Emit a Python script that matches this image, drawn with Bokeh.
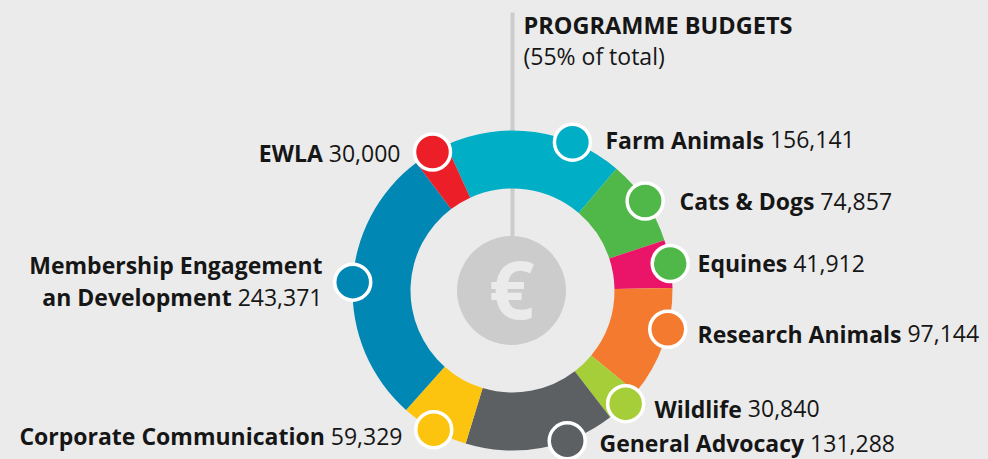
import subprocess
import numpy as np
from bokeh.plotting import figure
from bokeh.models import Range1d
from bokeh.embed import file_html
from bokeh.resources import INLINE
from bokeh.core.properties import value

# ---------------- data ----------------
title_line1 = "PROGRAMME BUDGETS"
title_line2 = "(55% of total)"
categories = ["Farm Animals", "Cats & Dogs", "Equines", "Research Animals", "Wildlife",
              "General Advocacy", "Corporate Communication",
              "Membership Engagement an Development", "EWLA"]
budgets = [156141, 74857, 41912, 97144, 30840, 131288, 59329, 243371, 30000]

# ---------------- style / layout ----------------
seg_colors = ["#00AEC5", "#50B848", "#EA1568", "#F47A30", "#A6CE39",
              "#5D6062", "#FDC40F", "#0087B3", "#EC1E27"]
marker_colors = ["#00AEC5", "#50B848", "#50B848", "#F47A30", "#A6CE39",
                 "#5D6062", "#FDC40F", "#0087B3", "#EC1E27"]
marker_angles = [22, 56, 80.3, 104, 135, 160, 209.5, 273, 330]   # clockwise from top
# label anchors in page pixels: (x, baseline y, align)
label_pos = [(605, 146.7, "left"), (679, 208.3, "left"), (697, 270, "left"),
             (697, 340.7, "left"), (654, 415.5, "left"), (599, 450, "left"),
             (402, 443, "right"), (322, 304, "right"), (400, 160, "right")]

W, H = 988, 459
CX, CY = 512, 290          # page coordinates of donut centre
R_OUT, R_IN = 160, 102
START = -24.5              # clockwise degrees from 12 o'clock
FONT = "Open Sans"
FS = 23
BG = "#EBEBEB"
TXT = "#161616"
TDY = -7.5                 # correction of the svg text baseline


def px(x):
    return x - CX


def py(y):
    return CY - y


def ty(y):
    return CY - (y + TDY)


def font_file(bold):
    try:
        r = subprocess.run(["fc-match", "-f", "%{file}",
                            f"{FONT}:weight={200 if bold else 80}"],
                           capture_output=True, text=True, timeout=5)
        return r.stdout.strip() or None
    except Exception:
        return None


_fonts = {}


def _load(bold):
    try:
        from PIL import ImageFont
        path = font_file(bold)
        if not path:
            return None, 1.0
        f = ImageFont.truetype(path, FS)
        scale = 1.0
        try:
            axes = f.get_variation_axes()
            vals = []
            for a in axes:
                nm = a.get("name", b"")
                nm = nm.decode() if isinstance(nm, bytes) else str(nm)
                if "eight" in nm.lower() or "wght" in nm.lower():
                    vals.append(700 if bold else 400)
                else:
                    vals.append(a.get("default", 100))
            f.set_variation_by_axes(vals)
        except Exception:
            if bold and "bold" not in path.lower():
                scale = 1.07
        return f, scale
    except Exception:
        return None, 1.0


def text_width(s, bold):
    if bold not in _fonts:
        _fonts[bold] = _load(bold)
    f, scale = _fonts[bold]
    if f is not None:
        return f.getlength(s) * scale
    return len(s) * FS * (0.6 if bold else 0.56)


p = figure(width=W, height=H, output_backend="svg", toolbar_location=None,
           x_range=Range1d(0 - CX, W - CX), y_range=Range1d(CY - H, CY),
           x_axis_type=None, y_axis_type=None, min_border=0,
           background_fill_color=BG, border_fill_color=BG, outline_line_color=None)
p.grid.visible = False

# vertical grey line
p.segment(x0=[0], y0=[py(12)], x1=[0], y1=[py(240)], line_color="#CCCCCC", line_width=4)

# ring
vals = np.array(budgets, dtype=float)
cum = np.concatenate([[0], np.cumsum(vals)]) / vals.sum() * 360.0
t1 = START + cum[:-1]
t2 = START + cum[1:]
p.annular_wedge(x=0, y=0, inner_radius=R_IN, outer_radius=R_OUT,
                start_angle=np.radians(90 - t2), end_angle=np.radians(90 - t1),
                fill_color=seg_colors, line_color=None)

# euro coin
p.circle(x=[px(511)], y=[py(290)], radius=54.5, fill_color="#CCCCCC", line_color=None)
p.text(x=[px(511)], y=[py(287)], text=["€"], text_font=value(FONT), text_font_style="bold",
       text_font_size="80px", text_color=BG, text_align="center", text_baseline="middle")

# markers
ang = np.radians(marker_angles)
p.circle(x=R_OUT * np.sin(ang), y=R_OUT * np.cos(ang), radius=18,
         fill_color=marker_colors, line_color="white", line_width=3.5)

# labels
bx, by, bt, ba = [], [], [], []
rx, ry, rt, ra = [], [], [], []
for name, v, (x, y, al) in zip(categories, budgets, label_pos):
    num = f"{v:,}"
    if name.startswith("Membership"):
        bx.append(px(x)); by.append(ty(y - 32.3)); bt.append("Membership Engagement"); ba.append("right")
        name = "an Development"
    if al == "left":
        bx.append(px(x)); by.append(ty(y)); bt.append(name); ba.append("left")
        rx.append(px(x) + text_width(name, True) + text_width(" ", False))
        ry.append(ty(y)); rt.append(num); ra.append("left")
    else:
        rx.append(px(x)); ry.append(ty(y)); rt.append(num); ra.append("right")
        bx.append(px(x) - text_width(" " + num, False)); by.append(ty(y)); bt.append(name); ba.append("right")

p.text(x=bx, y=by, text=bt, text_align=ba, text_font=value(FONT), text_font_style="bold",
       text_font_size=f"{FS}px", text_color=TXT, text_baseline="alphabetic")
p.text(x=rx, y=ry, text=rt, text_align=ra, text_font=value(FONT), text_font_style="normal",
       text_font_size=f"{FS}px", text_color=TXT, text_baseline="alphabetic")

# title
p.text(x=[px(523)], y=[ty(31.7)], text=[title_line1], text_font=value(FONT), text_font_style="bold",
       text_font_size="23.5px", text_color=TXT, text_baseline="alphabetic")
p.text(x=[px(523)], y=[ty(63.3)], text=[title_line2], text_font=value(FONT), text_font_style="normal",
       text_font_size=f"{FS}px", text_color=TXT, text_baseline="alphabetic")

html = file_html(p, INLINE)
html = html.replace("<head>", "<head><style>body{background:#EBEBEB;}</style>", 1)
open("out.html", "w").write(html)
